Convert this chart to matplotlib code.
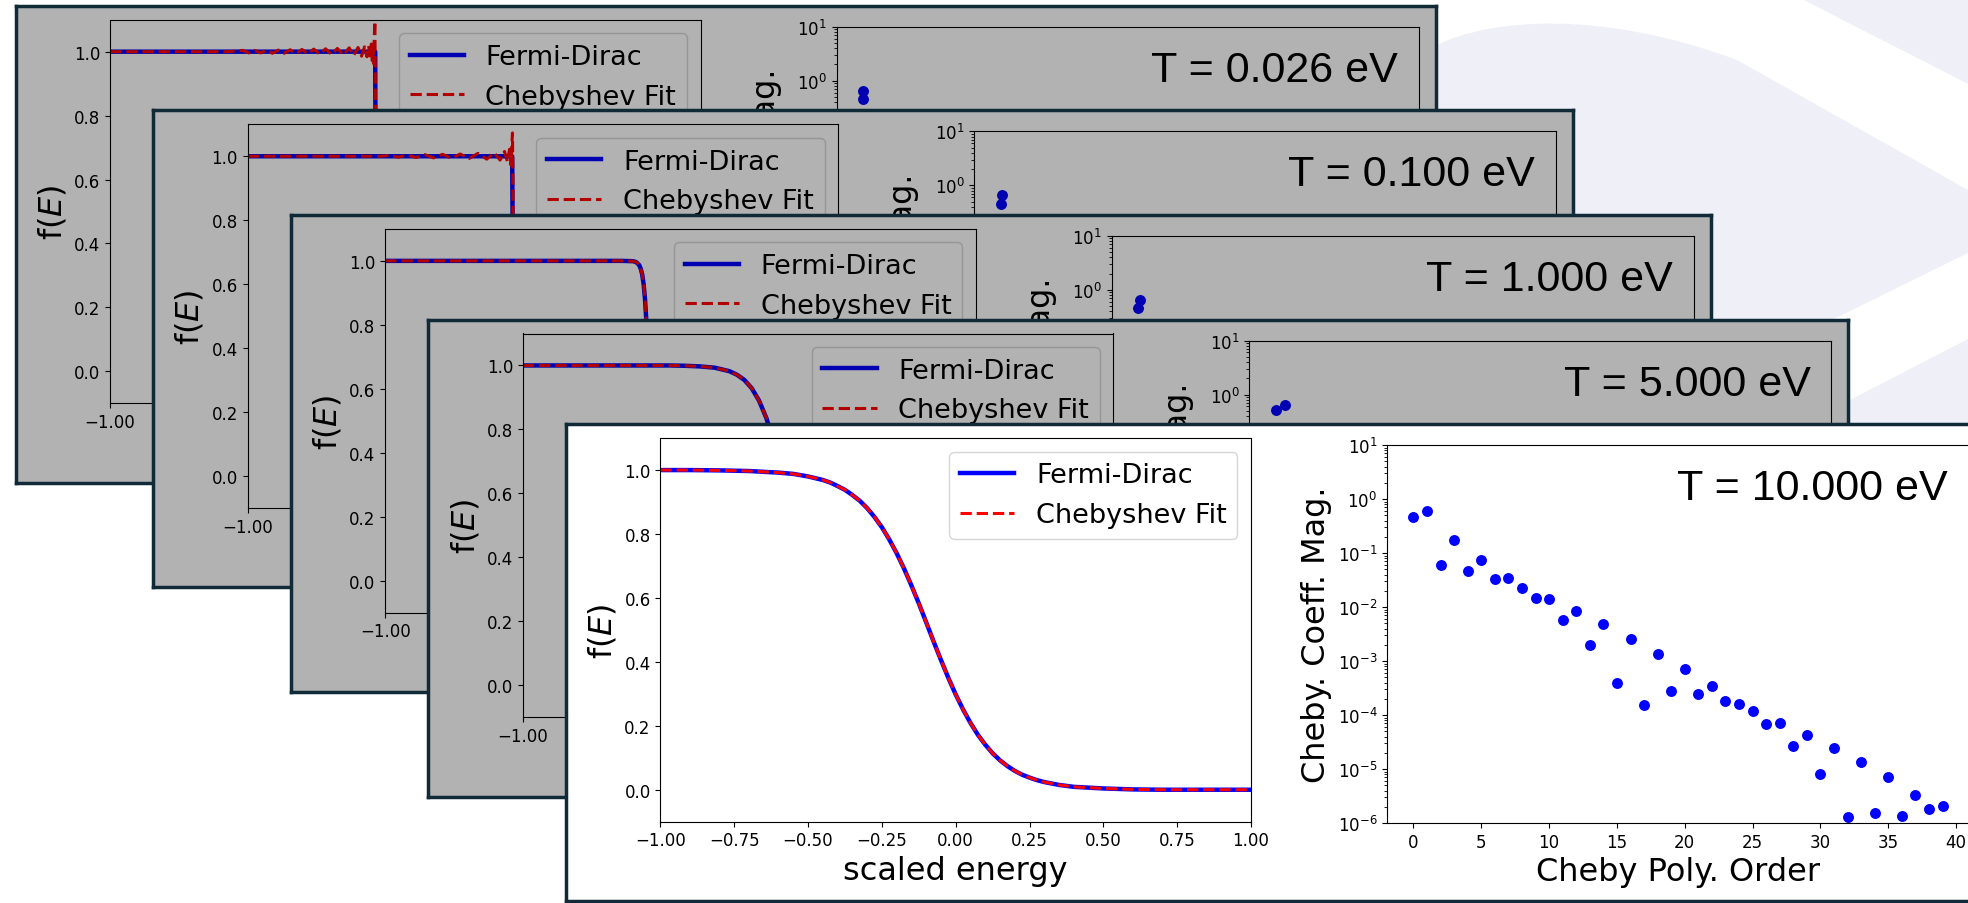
import matplotlib
matplotlib.use('Agg')
import matplotlib.pyplot as plt
from matplotlib.path import Path
from matplotlib.patches import PathPatch

W, H = 1968, 904

# ---- data ----
temps = ['0.026', '0.100', '1.000', '5.000', '10.000']

# Fermi-Dirac curves (scaled energy, occupation)
fd_x_026 = [-1.0, -0.102, -0.1, -0.098, 1.0]
fd_y_026 = [1.0, 1.0, 0.5, 0.0, 0.0]
fd_x_100 = [-1.0, -0.104, -0.1006, -0.097, 1.0]
fd_y_100 = [1.0, 1.0, 0.5, 0.0, 0.0]
fd_x_1 = [-1.0, -0.2, -0.16, -0.15, -0.14, -0.135, -0.13, -0.125, -0.12, -0.115,
          -0.11, -0.105, -0.1, -0.095, -0.09, -0.08, -0.07, -0.06, -0.04, 1.0]
fd_y_1 = [1.0, 1.0, 0.999, 0.996, 0.987, 0.976, 0.959, 0.928, 0.878, 0.801,
          0.693, 0.558, 0.414, 0.283, 0.181, 0.064, 0.021, 0.007, 0.001, 0.0]
fd_x_5 = [-1.0, -0.6, -0.5, -0.45, -0.4, -0.35, -0.3, -0.275, -0.25, -0.225,
          -0.2, -0.175, -0.15, -0.125, -0.1, -0.075, -0.05, -0.025, 0.0, 0.05,
          0.1, 0.15, 0.2, 0.3, 1.0]
fd_y_5 = [1.0, 1.0, 1.0, 0.999, 0.997, 0.993, 0.982, 0.971, 0.955, 0.929,
          0.890, 0.835, 0.758, 0.661, 0.547, 0.429, 0.318, 0.225, 0.153, 0.065,
          0.026, 0.010, 0.004, 0.000, 0.000]
fd_x_10 = [-1.0, -0.9, -0.8, -0.7, -0.6, -0.55, -0.5, -0.45, -0.425, -0.4,
           -0.375, -0.35, -0.325, -0.3, -0.275, -0.25, -0.225, -0.2, -0.175, -0.15,
           -0.125, -0.1, -0.075, -0.05, -0.025, 0.0, 0.025, 0.05, 0.075, 0.1,
           0.125, 0.15, 0.175, 0.2, 0.225, 0.25, 0.275, 0.3, 0.35, 0.4,
           0.5, 0.6, 0.7, 0.8, 0.9, 1.0]
fd_y_10 = [1.000, 1.000, 0.999, 0.997, 0.992, 0.988, 0.980, 0.969, 0.961, 0.950,
           0.938, 0.922, 0.904, 0.881, 0.853, 0.821, 0.783, 0.740, 0.692, 0.639,
           0.583, 0.524, 0.464, 0.406, 0.350, 0.298, 0.251, 0.209, 0.172, 0.141,
           0.114, 0.092, 0.074, 0.059, 0.047, 0.038, 0.030, 0.024, 0.015, 0.009,
           0.004, 0.001, 0.000, 0.000, 0.000, 0.000]

# Chebyshev fits (ringing at the two lowest temperatures)
fit_x_026 = [-1.0, -0.6, -0.55, -0.53, -0.51, -0.49, -0.47, -0.45, -0.43, -0.41,
             -0.39, -0.37, -0.35, -0.33, -0.31, -0.29, -0.27, -0.25, -0.23, -0.21,
             -0.19, -0.175, -0.16, -0.148, -0.138, -0.13, -0.124, -0.119, -0.115, -0.112,
             -0.109, -0.107, -0.105, -0.103, -0.1015, -0.1, -0.098, 1.0]
fit_y_026 = [1.0, 1.0, 1.004, 0.996, 1.004, 0.996, 1.005, 0.995, 1.005, 0.995,
             1.006, 0.994, 1.007, 0.993, 1.008, 0.992, 1.009, 0.991, 1.010, 0.990,
             1.012, 0.988, 1.013, 0.986, 1.015, 0.984, 1.018, 0.980, 1.024, 0.972,
             1.032, 0.962, 1.05, 1.095, 0.9, 0.5, 0.0, 0.0]
fit_x_100 = [-1.0, -0.55, -0.52, -0.49, -0.46, -0.43, -0.40, -0.37, -0.34, -0.31,
             -0.28, -0.25, -0.22, -0.19, -0.165, -0.145, -0.13, -0.12, -0.113, -0.108,
             -0.105, -0.103, -0.1015, -0.1006, -0.098, 1.0]
fit_y_100 = [1.0, 1.0, 1.003, 0.997, 1.004, 0.996, 1.005, 0.995, 1.006, 0.994,
             1.007, 0.993, 1.009, 0.991, 1.011, 0.988, 1.015, 0.983, 1.022, 0.972,
             1.04, 1.073, 0.9, 0.5, 0.0, 0.0]

# Chebyshev coefficient magnitudes
coef_10 = [0.47, 0.61, 0.0597, 0.173, 0.0469, 0.074, 0.0338, 0.034, 0.023, 0.0148,
           0.0142, 0.00587, 0.0085, 0.00196, 0.00481, 0.000394, 0.00261, 0.000156, 0.00138, 0.00028,
           0.000705, 0.000249, 0.000346, 0.00018, 0.000158, 0.000117, 6.93e-5, 7.24e-5, 2.71e-5, 4.28e-5,
           7.98e-6, 2.45e-5, 1.27e-6, 1.33e-5, 1.56e-6, 7.22e-6, 1.37e-6, 3.26e-6, 1.85e-6, 2.07e-6]
order_10 = list(range(40))
coef_low = [[0.46, 0.65], [0.46, 0.65], [0.46, 0.64], [0.52, 0.64]]  # only first two show
n_orders = [1500, 600, 250, 60, 39]

fd_x = [fd_x_026, fd_x_100, fd_x_1, fd_x_5, fd_x_10]
fd_y = [fd_y_026, fd_y_100, fd_y_1, fd_y_5, fd_y_10]
fit_x = [fit_x_026, fit_x_100, fd_x_1, fd_x_5, fd_x_10]
fit_y = [fit_y_026, fit_y_100, fd_y_1, fd_y_5, fd_y_10]
coef_x = [[0, 1], [0, 1], [0, 1], [0, 1], order_10]
coef_y = coef_low + [coef_10]

border = '#102a38'
lav = '#efeff7'

fig = plt.figure(figsize=(W / 100, H / 100), dpi=100)
fig.patch.set_facecolor('white')

# light swoosh shapes in the background
back = fig.add_axes([0, 0, 1, 1], zorder=-10)
back.set_xlim(0, W)
back.set_ylim(H, 0)
back.axis('off')
Mv, Cv, Lv, Zv = Path.MOVETO, Path.CURVE4, Path.LINETO, Path.CLOSEPOLY
shapes = [
    ([(1802, 0), (1850, 25), (1910, 55), (1968, 85), (1968, 0), (1802, 0)],
     [Mv, Cv, Cv, Cv, Lv, Zv]),
    ([(1437, 46), (1490, 20), (1600, 10), (1737, 61), (1968, 191), (1968, 254),
      (1846, 314), (1600, 430), (1437, 430), (1437, 46)],
     [Mv, Cv, Cv, Cv, Lv, Lv, Lv, Lv, Lv, Zv]),
    ([(1846, 403), (1968, 340), (1968, 430), (1846, 430), (1846, 403)],
     [Mv, Lv, Lv, Lv, Zv]),
]
for verts, codes in shapes:
    back.add_patch(PathPatch(Path(verts, codes), facecolor=lav, edgecolor='none'))


def card_rect(k, x0, y0, x1, y1):
    left = 15.6 + 137.6 * k
    top = 6.7 + 104.6 * k
    return [(left + x0) / W, 1 - (top + y1) / H, (x1 - x0) / W, (y1 - y0) / H]


def plain(ax):
    ax.set_xticks([])
    ax.set_yticks([])
    for s in ax.spines.values():
        s.set_visible(False)


for k in range(5):
    z = 10 * (k + 1)
    base = fig.add_axes(card_rect(k, 0, 0, 1420, 477), zorder=z)
    plain(base)
    base.set_facecolor('white')

    ax1 = fig.add_axes(card_rect(k, 94.4, 14, 685, 397.6), zorder=z + 1)
    ax1.plot(fd_x[k], fd_y[k], color='blue', lw=3.2, label='Fermi-Dirac')
    ax1.plot(fit_x[k], fit_y[k], 'r--', lw=2.2, label='Chebyshev Fit')
    ax1.set_xlim(-1, 1)
    ax1.set_ylim(-0.1, 1.1)
    ax1.set_xlabel('scaled energy', fontsize=23)
    ax1.set_ylabel('f($E$)', fontsize=23)
    ax1.tick_params(labelsize=12)
    ax1.legend(loc='upper right', fontsize=19.5)

    ax2 = fig.add_axes(card_rect(k, 821, 21, 1403, 399), zorder=z + 1)
    ax2.scatter(coef_x[k], coef_y[k], s=62, color='blue', linewidths=0)
    ax2.set_yscale('log')
    ax2.set_ylim(1e-6, 10)
    ax2.set_xlim(-0.05 * n_orders[k], 1.05 * n_orders[k])
    ax2.set_xlabel('Cheby Poly. Order', fontsize=23)
    ax2.set_ylabel('Cheby. Coeff. Mag.', fontsize=23)
    ax2.tick_params(labelsize=12)
    ax2.text(0.964, 0.857, 'T = %s eV' % temps[k], transform=ax2.transAxes,
             ha='right', va='baseline', fontsize=31, family='Liberation Sans')

    cover = fig.add_axes(card_rect(k, 0, 0, 1420, 477), zorder=z + 2)
    cover.set_xticks([])
    cover.set_yticks([])
    cover.set_facecolor((0, 0, 0, 0.3) if k < 4 else 'none')
    for s in cover.spines.values():
        s.set_color(border)
        s.set_linewidth(2.5)

fig.savefig('out.png', dpi=100)
